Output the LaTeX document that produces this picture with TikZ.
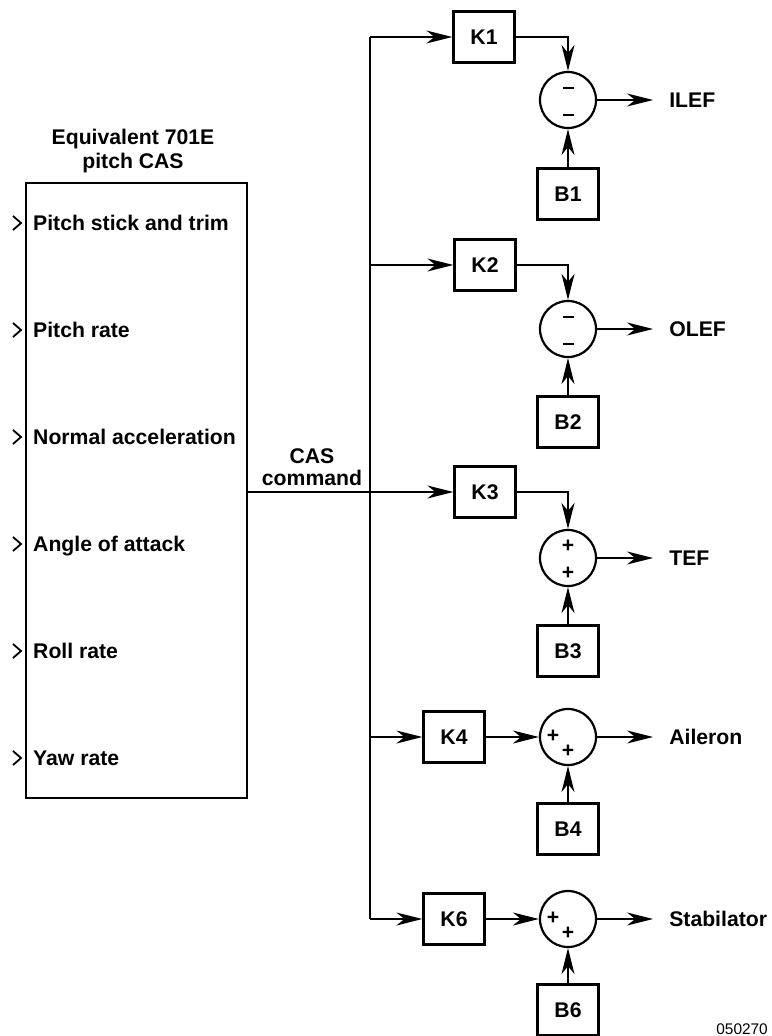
\documentclass[tikz,border=0pt]{standalone}
\usepackage{fontspec}
\setmainfont{Liberation Sans}
\usetikzlibrary{arrows.meta}
\begin{document}
\begin{tikzpicture}[x=1pt,y=-1pt,
  every node/.style={font=\fontsize{21.2}{24}\selectfont\bfseries},
  blk/.style={draw, line width=2.2pt, minimum width=61pt, minimum height=51pt, inner sep=0pt},
  sumc/.style={draw, circle, line width=2.2pt, minimum size=56pt, inner sep=0pt},
  sig/.style={inner sep=0pt},
  conn/.style={line width=1.6pt},
  arr/.style={conn, -{Stealth[length=26pt,width=13pt,inset=8pt]}},
  lab/.style={anchor=base west, inner sep=0pt},
  chev/.style={line width=1.8pt},
]
\useasboundingbox (0,0) rectangle (771,1036);

% main box
\node[draw, line width=1.8pt, minimum width=221pt, minimum height=615pt, anchor=north west, inner sep=0pt] (cas) at (25,182) {};
\node[align=center, anchor=south, inner sep=0pt] (title) at (133,173.5) {Equivalent 701E\\pitch CAS};

% inputs
\foreach \y/\t [count=\i] in {223/Pitch stick and trim, 330/Pitch rate, 437/Normal acceleration, 544/Angle of attack, 651/Roll rate, 758/Yaw rate}{
  \draw[chev] (13,\y-7) -- (21,\y) -- (13,\y+7);
  \node[lab] (in\i) at (33,\y+7.5) {\t};
}

% K blocks
\node[blk] (k1) at (484,37) {K1};
\node[blk] (k2) at (485,265) {K2};
\node[blk] (k3) at (485,492) {K3};
\node[blk] (k4) at (454,737) {K4};
\node[blk] (k6) at (454,919) {K6};

% sums
\node[sumc] (s1) at (568,100) {};
\node[sumc] (s2) at (568,329) {};
\node[sumc] (s3) at (568,558) {};
\node[sumc] (s4) at (568,737) {};
\node[sumc] (s6) at (568,919) {};

% signs
\node[sig] (s1a) at ([yshift=12pt]s1.center) {\rule{11pt}{2.4pt}};
\node[sig] (s1b) at ([yshift=-15pt]s1.center) {\rule{11pt}{2.4pt}};
\node[sig] (s2a) at ([yshift=12pt]s2.center) {\rule{11pt}{2.4pt}};
\node[sig] (s2b) at ([yshift=-15pt]s2.center) {\rule{11pt}{2.4pt}};
\node[sig] (s3a) at ([yshift=12pt]s3.center) {+};
\node[sig] (s3b) at ([yshift=-15pt]s3.center) {+};
\node[sig] (s4a) at ([xshift=-15pt,yshift=1pt]s4.center) {+};
\node[sig] (s4b) at ([yshift=-14pt]s4.center) {+};
\node[sig] (s6a) at ([xshift=-15pt,yshift=1pt]s6.center) {+};
\node[sig] (s6b) at ([yshift=-14pt]s6.center) {+};

% B blocks
\node[blk] (b1) at (568,194) {B1};
\node[blk] (b2) at (568,422) {B2};
\node[blk] (b3) at (568,651) {B3};
\node[blk] (b4) at (568,829) {B4};
\node[blk] (b6) at (568,1010) {B6};

% bus
\coordinate (bt) at (370,37);
\coordinate (bb) at (370,919);
\draw[conn] (bt) -- (bb);
\coordinate (co) at (cas.east |- k3.west);
\draw[arr] (co) -- (k3.west);
\draw[arr] (bt) -- (k1.west);
\draw[arr] (bt |- k2.west) -- (k2.west);
\draw[arr] (bt |- k4.west) -- (k4.west);
\draw[arr] (bb) -- (k6.west);
\node[align=center, anchor=south, inner sep=0pt, font=\fontsize{21.2}{22}\selectfont\bfseries] (cmd) at (312,485.5) {CAS\\command};

% K to sums
\draw[arr] (k1.east) -| (s1.north);
\draw[arr] (k2.east) -| (s2.north);
\draw[arr] (k3.east) -| (s3.north);
\draw[arr] (k4.east) -- (s4.west);
\draw[arr] (k6.east) -- (s6.west);

% B to sums
\draw[arr] (b1.north) -- (s1.south);
\draw[arr] (b2.north) -- (s2.south);
\draw[arr] (b3.north) -- (s3.south);
\draw[arr] (b4.north) -- (s4.south);
\draw[arr] (b6.north) -- (s6.south);

% outputs
\foreach \s/\t in {s1/ILEF, s2/OLEF, s3/TEF, s4/Aileron, s6/Stabilator}{
  \draw[arr] (\s.east) -- ++(56,0) coordinate (o\s);
  \node[anchor=west, inner sep=0pt] (l\s) at ([xshift=16pt]o\s) {\t};
}

\node[anchor=east, inner sep=0pt, font=\fontsize{15.4}{16}\selectfont] (code) at (768,1029) {050270};
\end{tikzpicture}
\end{document}
